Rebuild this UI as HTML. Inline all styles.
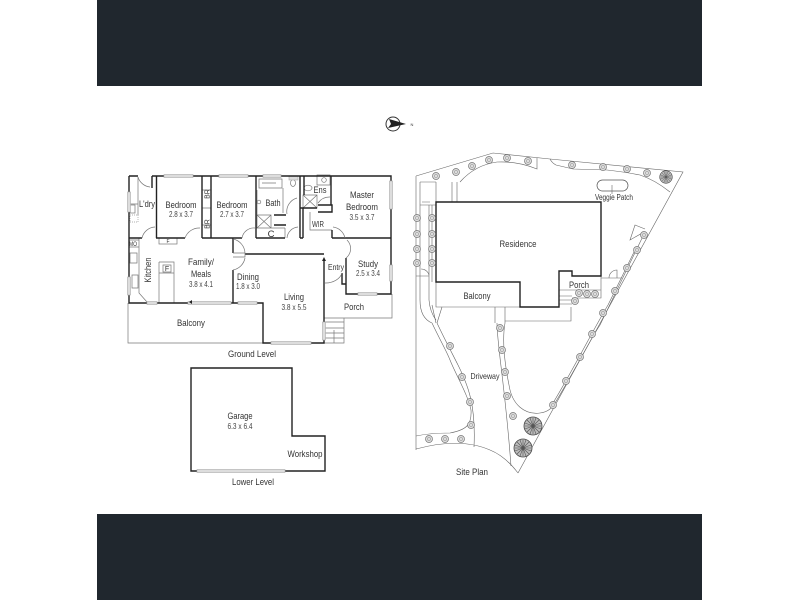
<!DOCTYPE html>
<html>
<head>
<meta charset="utf-8">
<style>
html,body{margin:0;padding:0;background:#fff;width:800px;height:600px;overflow:hidden}
svg{display:block}
text{font-family:"Liberation Sans",sans-serif;fill:#333;text-anchor:middle;font-size:9.500px}
.d{font-size:8px;fill:#444}
.w{fill:none;stroke:#222;stroke-width:1.4}
.t{fill:none;stroke:#777;stroke-width:.7}
.win{fill:#ddd;stroke:#aaa;stroke-width:.6}
.s{fill:none;stroke:#666;stroke-width:.6}
</style>
</head>
<body>
<svg width="800" height="600" viewBox="0 0 800 600" xmlns="http://www.w3.org/2000/svg">
<defs>
<g id="tr"><circle r="3.5" fill="#ddd" stroke="#777" stroke-width=".7"/><circle r="1.6" fill="none" stroke="#888" stroke-width=".5"/></g>
<g id="big"><circle r="9" fill="#bbb" stroke="#444" stroke-width=".8"/><path d="M-8 0H8M0-8V8M-6-6L6 6M6-6L-6 6M-3-8L3 8M3-8L-3 8M-8-3L8 3M-8 3L8-3" stroke="#555" stroke-width=".6"/></g>
</defs>
<rect x="97" y="0" width="605" height="86" fill="#20272e"/>
<rect x="97" y="514" width="605" height="86" fill="#20272e"/>

<g style="filter:blur(.35px)">
<!-- compass -->
<circle cx="393" cy="124" r="7" fill="#fff" stroke="#333" stroke-width="1"/>
<path d="M389 119L406 124L388 128L391 124Z" fill="#222"/>
<text x="412" y="126" style="font-size:4px">N</text>

<!-- GROUND LEVEL thin -->
<path class="t" d="M128 303V343H263"/>
<path class="t" d="M138 177V215M129 204H138M139 238V293L147 302"/>
<path class="t" d="M129 240H139M129 247H139M130 253H137V263H130ZM132 275H138V288H132Z"/>
<rect x="130" y="205" width="5" height="8" class="t"/>
<rect x="130" y="215" width="8" height="7" fill="none" stroke="#999" stroke-dasharray="1 1" stroke-width=".7"/>
<path class="t" d="M159 262H174V303M159 262V303M159 273H174M163 265H171V272H163Z"/>
<rect x="159" y="238" width="18" height="6" class="t"/>
<path class="t" d="M324 318H392V294M324 343H344V318M324 322H344M324 328H344M324 333H344M324 338H344M334 330V343"/>
<path class="t" d="M202 208H211M202 190H211M202 225H211"/>
<path class="t" d="M259 179H282V188H259ZM257 190V215M257 215H271V228H257ZM257 215L271 228M271 215L257 228M256 228H285M285 228V238M283 188V213M262 183H276"/>
<path class="t" d="M303 195H317V208H303ZM303 195L317 208M317 195L303 208"/>
<path class="t" d="M317 175H330V185H317ZM310 212V230H332"/>
<ellipse cx="293" cy="183" rx="2.500" ry="3.500" class="t"/>
<rect x="289" y="176" width="9" height="4" class="win"/>
<ellipse cx="308" cy="188" rx="4" ry="2.800" class="t"/>
<circle cx="324" cy="180" r="2.300" class="t"/>
<circle cx="259" cy="202" r="1.800" class="t"/>

<!-- walls -->
<path class="w" d="M129 176V303H263V343H324V260M129 176H138M152 176H391V294H346V258M391 238H346"/>
<path class="w" d="M152 176V188M156.500 176V238M202 176V238M211 176V238M256 176V238"/>
<path class="w" d="M129 238H142M156 238H185M202 238H242M256 238H285M300 238H303"/>
<path class="w" d="M233 303V270M233 253V238M245 254H324"/>
<path class="w" d="M300 176V238M303 208V238M304 176V195M300 208H317M318 205H332V212H318M332 230V238M331 176V205"/>
<path class="w" d="M274 215H286M274 225H286M332 238H346M342 273V284H346"/>

<!-- doors -->
<path class="t" d="M138 177A14 14 0 0 0 150 187M142 238A14 14 0 0 1 155 227M185 238A15 15 0 0 1 200 228M242 238A12 12 0 0 1 255 228M233 239A15 15 0 0 1 245 253M245 258A15 15 0 0 1 233 270M287 214A14 14 0 0 1 297 198M287 238A12 12 0 0 1 298 227M318 203A14 14 0 0 1 330 197M333 227A14 14 0 0 1 345 238M346 258A12 12 0 0 0 347 240M325 283A17 13 0 0 0 342 273"/>
<path class="t" d="M233 253H245M233 257H245V253"/>

<!-- windows -->
<rect x="164" y="174.500" width="29" height="3" class="win"/>
<rect x="219" y="174.500" width="29" height="3" class="win"/>
<rect x="263" y="174.500" width="18" height="3" class="win"/>
<rect x="389.500" y="181" width="3" height="28" class="win"/>
<rect x="389.500" y="265" width="3" height="16" class="win"/>
<rect x="358" y="292.500" width="19" height="3" class="win"/>
<rect x="147" y="301.500" width="10" height="3" class="win"/>
<rect x="188" y="301.500" width="43" height="3" class="win"/>
<rect x="238" y="301.500" width="19" height="3" class="win"/>
<rect x="271" y="341.500" width="40" height="3" class="win"/>
<rect x="127.500" y="192" width="3" height="20" class="win"/>
<rect x="127.500" y="277" width="3" height="18" class="win"/>
<rect x="322.500" y="322" width="3" height="18" class="win"/>
<path d="M324 257L322 261H326Z" fill="#222"/>
<path d="M189 302L192 300V304Z" fill="#222"/>

<!-- garage -->
<path class="w" d="M191 368H292V436H325V471H191Z"/>
<rect x="197" y="469.500" width="88" height="3" class="win"/>

<!-- SITE PLAN -->
<path class="s" d="M416 176V450M416 176L493 153L550 159L683 172L518 473M416 449Q460 437 490 450Q505 456 518 473"/>
<path class="s" d="M420 182H436M420 182V300Q420 318 432 323M429 205V300Q430 312 436 320"/>
<path class="s" d="M416 276H429M420 205H436M422 202H430M432 205V282"/>
<path class="s" d="M429 275A8 8 0 0 0 421 269"/>
<path class="s" d="M452 182V202M457 182V202M436 182V202M460 182Q475 165 497 162Q518 161 537 169V158"/>
<path class="s" d="M432 305L436 323M442 307L437 323M437 323C445 340 453 355 458 365C468 385 476 405 474 447M432 323C440 340 447 352 450 360C456 375 468 395 471 410C472 425 466 430 450 433Q430 433 416 436"/>
<path class="s" d="M495 307V323M505 307V323M497 323C497 345 505 385 511 466M505 323C502 340 505 365 509 385C512 405 525 415 540 413C548 412 552 408 555 403C575 370 590 340 600 325L645 232M553 403C573 370 593 330 608 305L636 248M645 229L635 225L630 240L644 232"/>
<path class="s" d="M550 159Q552 163 556 165L573 169L607 170Q625 172 640 175Q655 180 670 192"/>
<path class="s" d="M601 276V298H572M559 290H601M505 321H571V307M559 296H572M559 300H572M559 304H572"/>
<path class="s" d="M601 278H622M609 278A8 8 0 0 1 617 270V278"/>
<path class="s" d="M436 282V307H520"/>
<rect x="597" y="180" width="31" height="11" rx="5.500" fill="none" stroke="#555" stroke-width=".7"/>
<path class="s" d="M612 185V194"/>
<path class="w" d="M436 202H601V276H572V271H559V307H520V282H436Z"/>

<use href="#tr" x="436" y="176"/><use href="#tr" x="456" y="172"/><use href="#tr" x="472" y="166"/><use href="#tr" x="489" y="160"/><use href="#tr" x="507" y="158"/><use href="#tr" x="528" y="161"/>
<use href="#tr" x="572" y="165"/><use href="#tr" x="603" y="167"/><use href="#tr" x="627" y="169"/><use href="#tr" x="647" y="173"/>
<g transform="translate(666 177) scale(.7)"><use href="#big"/></g>
<use href="#tr" x="644" y="235"/><use href="#tr" x="637" y="250"/><use href="#tr" x="627" y="268"/><use href="#tr" x="615" y="291"/><use href="#tr" x="603" y="313"/>
<use href="#tr" x="579" y="293"/><use href="#tr" x="587" y="294"/><use href="#tr" x="595" y="294"/><use href="#tr" x="575" y="301"/>
<use href="#tr" x="417" y="218"/><use href="#tr" x="417" y="234"/><use href="#tr" x="417" y="249"/><use href="#tr" x="417" y="263"/><use href="#tr" x="432" y="218"/><use href="#tr" x="432" y="234"/><use href="#tr" x="432" y="249"/><use href="#tr" x="432" y="263"/>
<use href="#tr" x="450" y="346"/><use href="#tr" x="462" y="377"/><use href="#tr" x="470" y="402"/><use href="#tr" x="471" y="425"/>
<use href="#tr" x="429" y="439"/><use href="#tr" x="445" y="439"/><use href="#tr" x="461" y="439"/>
<use href="#tr" x="500" y="328"/><use href="#tr" x="502" y="350"/><use href="#tr" x="505" y="372"/><use href="#tr" x="507" y="396"/><use href="#tr" x="513" y="416"/>
<use href="#tr" x="553" y="405"/><use href="#tr" x="566" y="381"/><use href="#tr" x="580" y="357"/><use href="#tr" x="592" y="334"/>
<use href="#big" x="533" y="426"/><use href="#big" x="523" y="448"/>

<!-- labels -->
<text x="181" y="208" textLength="31" lengthAdjust="spacingAndGlyphs">Bedroom</text><text class="d" x="181" y="217" textLength="24" lengthAdjust="spacingAndGlyphs">2.8 x 3.7</text>
<text x="232" y="208" textLength="31" lengthAdjust="spacingAndGlyphs">Bedroom</text><text class="d" x="232" y="217" textLength="24" lengthAdjust="spacingAndGlyphs">2.7 x 3.7</text>
<text x="147" y="207" textLength="16" lengthAdjust="spacingAndGlyphs">L'dry</text>
<text x="207" y="194" style="font-size:7px" transform="rotate(-90 207 194)" dy="2.500">BR</text>
<text x="207" y="224" style="font-size:7px" transform="rotate(-90 207 224)" dy="2.500">BR</text>
<text x="133" y="246" style="font-size:6px" textLength="8" lengthAdjust="spacingAndGlyphs">MO</text>
<text x="167" y="271" style="font-size:7px">F</text>
<text x="168" y="243" style="font-size:5px">F</text>
<text x="201" y="265" textLength="26" lengthAdjust="spacingAndGlyphs">Family/</text><text x="201" y="277" textLength="20" lengthAdjust="spacingAndGlyphs">Meals</text><text class="d" x="201" y="287" textLength="24" lengthAdjust="spacingAndGlyphs">3.8 x 4.1</text>
<text x="148" y="270" transform="rotate(-90 148 270)" dy="3" textLength="25" lengthAdjust="spacingAndGlyphs">Kitchen</text>
<text x="248" y="280" textLength="22" lengthAdjust="spacingAndGlyphs">Dining</text><text class="d" x="248" y="289" textLength="24" lengthAdjust="spacingAndGlyphs">1.8 x 3.0</text>
<text x="191" y="326" textLength="28" lengthAdjust="spacingAndGlyphs">Balcony</text>
<text x="252" y="357" textLength="48" lengthAdjust="spacingAndGlyphs">Ground Level</text>
<text x="273" y="206" textLength="15" lengthAdjust="spacingAndGlyphs">Bath</text>
<text x="271" y="237">C</text>
<text x="320" y="193" textLength="13" lengthAdjust="spacingAndGlyphs">Ens</text>
<text x="318" y="227" style="font-size:8px" textLength="12" lengthAdjust="spacingAndGlyphs">WIR</text>
<text x="362" y="198" textLength="24" lengthAdjust="spacingAndGlyphs">Master</text><text x="362" y="210" textLength="32" lengthAdjust="spacingAndGlyphs">Bedroom</text><text class="d" x="362" y="220" textLength="25" lengthAdjust="spacingAndGlyphs">3.5 x 3.7</text>
<text x="336" y="270" style="font-size:8.500px" textLength="16" lengthAdjust="spacingAndGlyphs">Entry</text>
<text x="368" y="267" textLength="20" lengthAdjust="spacingAndGlyphs">Study</text><text class="d" x="368" y="276" textLength="24" lengthAdjust="spacingAndGlyphs">2.5 x 3.4</text>
<text x="294" y="300" textLength="20" lengthAdjust="spacingAndGlyphs">Living</text><text class="d" x="294" y="310" textLength="25" lengthAdjust="spacingAndGlyphs">3.8 x 5.5</text>
<text x="354" y="310" textLength="20" lengthAdjust="spacingAndGlyphs">Porch</text>
<text x="240" y="419" textLength="25" lengthAdjust="spacingAndGlyphs">Garage</text><text class="d" x="240" y="429" textLength="25" lengthAdjust="spacingAndGlyphs">6.3 x 6.4</text>
<text x="305" y="457" textLength="35" lengthAdjust="spacingAndGlyphs">Workshop</text>
<text x="253" y="485" textLength="42" lengthAdjust="spacingAndGlyphs">Lower Level</text>
<text x="518" y="247" textLength="37" lengthAdjust="spacingAndGlyphs">Residence</text>
<text x="477" y="299" textLength="27" lengthAdjust="spacingAndGlyphs">Balcony</text>
<text x="579" y="288" textLength="20" lengthAdjust="spacingAndGlyphs">Porch</text>
<text x="614" y="200" style="font-size:8px" textLength="38" lengthAdjust="spacingAndGlyphs">Veggie Patch</text>
<text x="485" y="379" style="font-size:8.500px" textLength="29" lengthAdjust="spacingAndGlyphs">Driveway</text>
<text x="472" y="475" textLength="32" lengthAdjust="spacingAndGlyphs">Site Plan</text>
</g>
</svg>
</body>
</html>
